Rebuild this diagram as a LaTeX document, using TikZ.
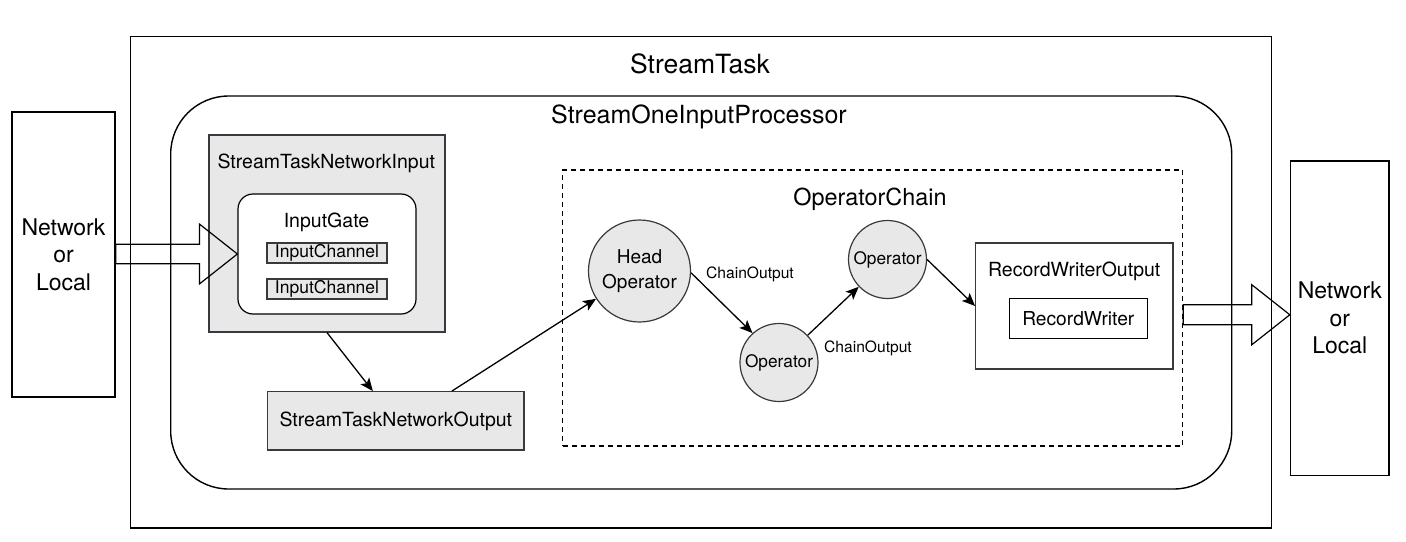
\documentclass[tikz,border=0pt]{standalone}
\usepackage{fontspec}
\setmainfont{TeX Gyre Heros}
\usetikzlibrary{arrows.meta,calc}
\definecolor{boxgray}{HTML}{E8E8E8}
\definecolor{edgegray}{HTML}{36393D}
\begin{document}
\begin{tikzpicture}[x=1pt,y=-1pt,
  frame/.style={draw=black,line width=1.4pt,inner sep=0pt},
  graybox/.style={draw=edgegray,fill=boxgray,line width=1.2pt,inner sep=0pt},
  whitebox/.style={draw=black,fill=white,line width=1.2pt,inner sep=0pt},
  opnode/.style={circle,draw=edgegray,fill=boxgray,line width=1.2pt,inner sep=0pt,align=center},
  lbl/.style={anchor=base,inner sep=0pt},
  conn/.style={draw=black,line width=1.3pt,-{Stealth[length=13pt,width=11pt,inset=3pt]}},
  fat/.style={draw=black,line width=1.2pt,line join=miter},
  fs/.style={font=\fontsize{#1}{#1*1.2}\selectfont}
]
\useasboundingbox (0,0) rectangle (1406,541);

% outer containers
\node[frame,minimum width=1141pt,minimum height=491.3pt] (ST) at (701.2,282.35) {};
\node[frame,rounded corners=58pt,minimum width=1061pt,minimum height=393pt] (SP) at (701.2,292.5) {};
\node[lbl,font=\fontsize{26.5}{30}\selectfont] (STt) at (700,73) {StreamTask};
\node[lbl,font=\fontsize{25}{30}\selectfont] (SPt) at (699,123) {StreamOneInputProcessor};

% network boxes
\node[frame,minimum width=103pt,minimum height=285pt,align=center,font=\fontsize{23}{27.5}\selectfont] (L) at (63.5,254.5) {Network\\or\\Local};
\node[frame,minimum width=98.5pt,minimum height=314.5pt,align=center,font=\fontsize{23}{27.5}\selectfont] (R) at (1339.75,318.25) {Network\\or\\Local};

% input side
\node[graybox,minimum width=236pt,minimum height=197pt] (NI) at (327,233.5) {};
\node[lbl,font=\fontsize{19.5}{23}\selectfont] (NIt) at (326.3,168) {StreamTaskNetworkInput};
\node[whitebox,draw=black,rounded corners=15pt,minimum width=178pt,minimum height=120pt] (IG) at (327,254) {};
\node[lbl,font=\fontsize{19.5}{23}\selectfont] (IGt) at (326.5,227) {InputGate};
\node[graybox,line width=1.1pt,minimum width=120pt,minimum height=20pt,font=\fontsize{17.5}{20}\selectfont] (IC1) at (327,253) {InputChannel};
\node[graybox,line width=1.1pt,minimum width=120pt,minimum height=20pt,font=\fontsize{17.5}{20}\selectfont] (IC2) at (327,289) {InputChannel};
\node[graybox,minimum width=256.3pt,minimum height=58.3pt,font=\fontsize{19.5}{23}\selectfont] (NO) at (395.85,420.85) {StreamTaskNetworkOutput};

% operator chain
\node[draw=black,line width=1.2pt,dash pattern=on 5pt off 4pt,inner sep=0pt,minimum width=620pt,minimum height=276pt] (OC) at (872.7,308) {};
\node[lbl,font=\fontsize{23.4}{28}\selectfont] (OCt) at (870,205) {OperatorChain};
\node[opnode,minimum size=102pt,font=\fontsize{19}{24.5}\selectfont] (H) at (639.5,271) {Head\\Operator};
\node[opnode,minimum size=78pt,font=\fontsize{17.3}{20}\selectfont] (O2) at (779,362.5) {Operator};
\node[opnode,minimum size=78pt,font=\fontsize{17.3}{20}\selectfont] (O3) at (887.5,259.5) {Operator};
\node[lbl,font=\fontsize{15.6}{18}\selectfont] (CO1) at (750,278) {ChainOutput};
\node[lbl,font=\fontsize{15.6}{18}\selectfont] (CO2) at (868,352.7) {ChainOutput};

\node[draw=edgegray,fill=white,line width=1.2pt,inner sep=0pt,minimum width=197.3pt,minimum height=126pt] (RWO) at (1074.35,306) {};
\node[lbl,font=\fontsize{19.5}{23}\selectfont] (RWOt) at (1074.2,276) {RecordWriterOutput};
\node[whitebox,minimum width=138pt,minimum height=40pt,font=\fontsize{19.2}{23}\selectfont] (RW) at (1078.3,318.3) {RecordWriter};

% connectors
\draw[conn] (NI.south) -- ([xshift=-23pt]NO.north);
\draw[conn] ([xshift=56pt]NO.north) -- (H);
\draw[conn] (H.-2) -- (O2.132);
\draw[conn] (O2) -- (O3);
\draw[conn] (O3.east) -- (RWO.west);

% fat arrows
\coordinate (ltip) at (IG.west);
\coordinate (lbase) at (L.east |- IG.west);
\draw[fat] ($(lbase)+(0,-9.7)$) -- ($(ltip)+(-38,-9.7)$) -- ($(ltip)+(-38,-30)$) -- (ltip)
  -- ($(ltip)+(-38,30)$) -- ($(ltip)+(-38,9.7)$) -- ($(lbase)+(0,9.7)$) -- cycle;
\coordinate (rtip) at ($(R.west)+(0,-3.5)$);
\coordinate (rbase) at (OC.east |- rtip);
\draw[fat] ($(rbase)+(0,-10)$) -- ($(rtip)+(-38,-10)$) -- ($(rtip)+(-38,-30)$) -- (rtip)
  -- ($(rtip)+(-38,30)$) -- ($(rtip)+(-38,10)$) -- ($(rbase)+(0,10)$) -- cycle;
\end{tikzpicture}
\end{document}
